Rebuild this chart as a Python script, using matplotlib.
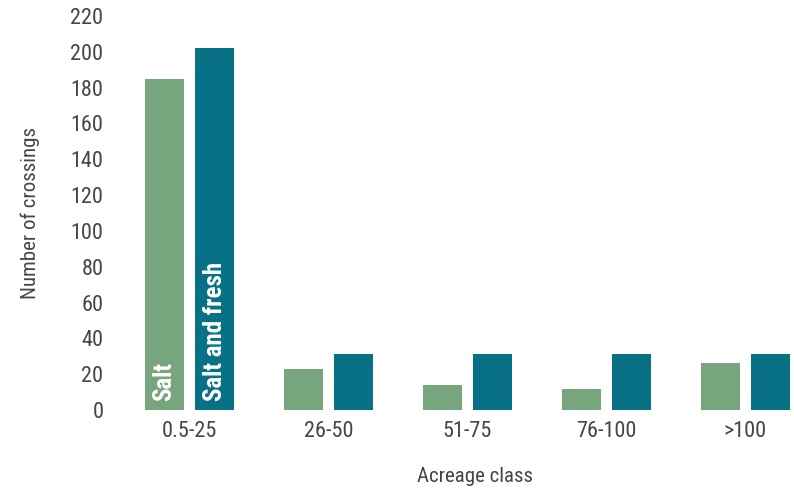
import matplotlib.pyplot as plt
import numpy as np

# acreage classes and crossing counts
classes = ['0.5-25', '26-50', '51-75', '76-100', '>100']
salt = [185, 23, 14, 12, 26]
salt_fresh = [202, 31, 31, 31, 31]

plt.rcParams['font.family'] = ['Roboto Condensed', 'Liberation Sans Narrow', 'DejaVu Sans']
plt.rcParams['font.stretch'] = 'condensed'
txt = '#454545'
green = '#76a57e'
teal = '#087185'

fig = plt.figure(figsize=(7.94, 4.9), dpi=100)
ax = fig.add_axes([120/794, 80/490, 670/794, 394/490])

x = np.arange(len(classes))
w = 0.28
ax.bar(x - 0.18, salt, w, color=green)
ax.bar(x + 0.18, salt_fresh, w, color=teal)

# series names written inside the first pair of bars
ax.text(x[0] - 0.18, 5, 'Salt', rotation=90, color='white', fontsize=18,
        fontweight='bold', ha='center', va='bottom')
ax.text(x[0] + 0.18, 5, 'Salt and fresh', rotation=90, color='white', fontsize=18,
        fontweight='bold', ha='center', va='bottom')

ax.set_xlim(-0.5, 4.32)
ax.set_ylim(0, 220)
ax.set_yticks(range(0, 221, 20))
ax.set_xticks(x)
ax.set_xticklabels(classes)
ax.tick_params(length=0, labelsize=16, labelcolor=txt)
ax.tick_params(axis='x', pad=8)
ax.tick_params(axis='y', pad=12)
for s in ax.spines.values():
    s.set_visible(False)

ax.set_ylabel('Number of crossings', fontsize=15, color=txt, labelpad=22)
ax.set_xlabel('Acreage class', fontsize=15, color=txt)
ax.xaxis.set_label_coords(0.53, -0.145)

plt.savefig('out.png', dpi=100)
